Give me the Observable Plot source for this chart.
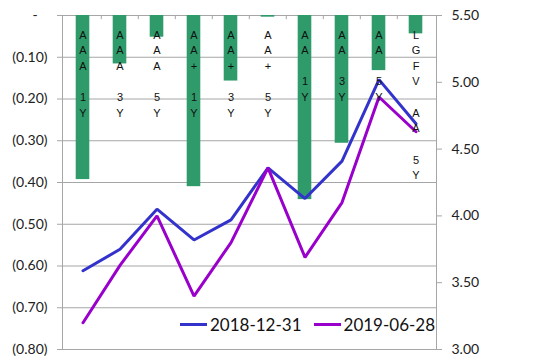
<!DOCTYPE html>
<html><head><meta charset="utf-8">
<script src="https://cdn.jsdelivr.net/npm/d3@7"></script>
<script src="https://cdn.jsdelivr.net/npm/@observablehq/plot@0.6"></script>
<style>
body{margin:0;background:#fff}
#wrap{position:relative;width:560px;height:364px}
#legend{position:absolute;left:180px;top:314px;font-family:Lato,sans-serif;font-size:17px;color:#111;display:flex;align-items:center;white-space:nowrap}
#legend .sw{display:inline-block;width:27px;height:3px;margin-right:3px}
#legend .item{display:flex;align-items:center;margin-right:12px}
</style>
</head><body><div id="wrap"></div>
<script>
const categories = ["AAA 1Y","AAA 3Y","AAA 5Y","AA+ 1Y","AA+ 3Y","AA+ 5Y","AA 1Y","AA 3Y","AA 5Y","LGFV AA 5Y"];
const spreadChange = [-0.393,-0.116,-0.052,-0.410,-0.157,-0.004,-0.441,-0.306,-0.132,-0.044];
const yield20181231 = [3.59,3.75,4.05,3.82,3.97,4.36,4.13,4.41,5.02,4.69];
const yield20190628 = [3.20,3.63,4.00,3.40,3.80,4.36,3.69,4.10,4.89,4.63];
const seriesNames = ["2018-12-31","2019-06-28"];
const seriesColors = ["#3333cc","#9900cc"];
const leftTicks = [0,-0.1,-0.2,-0.3,-0.4,-0.5,-0.6,-0.7,-0.8];
const rightTicks = [3.0,3.5,4.0,4.5,5.0,5.5];

const L0 = -0.8, L1 = 0, R0 = 3.0, R1 = 5.5;
const toLeft = v => L0 + (v - R0) / (R1 - R0) * (L1 - L0);
const fromLeft = d => R0 + (d - L0) / (L1 - L0) * (R1 - R0);

const bars = categories.map((c,i)=>({cat:c, v:spreadChange[i]}));
const lines = [];
[yield20181231, yield20190628].forEach((arr,s)=>arr.forEach((v,i)=>lines.push({cat:categories[i], s:seriesNames[s], v:toLeft(v)})));
const labelText = c => c.split("").map(ch => ch === " " ? "\u00a0" : ch).join("\n");

const W = 560, H = 364, mL = 62, mR = 124, mT = 15, mB = 15;
const step = (W - mL - mR) / categories.length;
const inset = (step - 14) / 2;
const gray = "#a6a6a6";

const chart = Plot.plot({
  width: W, height: H,
  marginLeft: mL, marginRight: mR, marginTop: mT, marginBottom: mB,
  style: {fontFamily: "Lato, sans-serif", fontSize: "14px", color: "#222", background: "#fff"},
  x: {domain: categories, padding: 0, axis: null},
  y: {domain: [L0, L1], axis: null},
  color: {domain: seriesNames, range: seriesColors},
  marks: [
    Plot.gridY(leftTicks.slice(1, -1), {stroke: gray, strokeOpacity: 1}),
    Plot.frame({stroke: gray}),
    Plot.axisY({anchor: "left", ticks: leftTicks, tickSize: 5, tickPadding: 10, stroke: gray, fill: "#222", label: null,
      tickFormat: d => Math.abs(d) < 1e-9 ? "-\u2007\u2009" : `(${(-d).toFixed(2)})`}),
    Plot.axisY({anchor: "right", ticks: rightTicks.map(toLeft), tickSize: 5, tickPadding: 10, stroke: gray, fill: "#222", label: null,
      tickFormat: d => (Math.round(fromLeft(d) * 100) / 100).toFixed(2)}),
    Plot.ruleX(categories.slice(1), {x: d => d, dx: -step / 2, y1: 0, y2: -0.01, stroke: gray}),
    Plot.barY(bars, {x: "cat", y: "v", fill: "#2f9b6a", insetLeft: inset, insetRight: inset}),
    Plot.line(lines, {x: "cat", y: "v", z: "s", stroke: "s", strokeWidth: 3, strokeLinejoin: "miter"}),
    Plot.text(categories, {x: d => d, y: 0, text: labelText, lineAnchor: "top", dy: 12, fontSize: 11, lineHeight: 1.42,
      fontFamily: "'Liberation Sans', Arial, sans-serif", fill: "#111"})
  ]
});
const wrap = document.getElementById("wrap");
wrap.appendChild(chart);
const leg = document.createElement("div");
leg.id = "legend";
seriesNames.forEach((n,i)=>{
  const it = document.createElement("span"); it.className = "item";
  const sw = document.createElement("span"); sw.className = "sw"; sw.style.background = seriesColors[i];
  const tx = document.createElement("span"); tx.textContent = n;
  it.appendChild(sw); it.appendChild(tx); leg.appendChild(it);
});
wrap.appendChild(leg);
</script></body></html>
